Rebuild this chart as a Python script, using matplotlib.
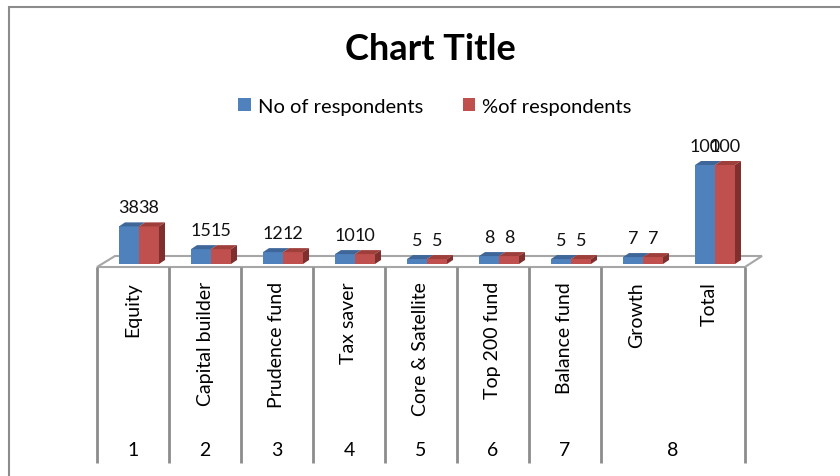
import numpy as np
import matplotlib.pyplot as plt
from matplotlib.patches import Polygon, Rectangle

plt.rcParams['font.family'] = ['Lato', 'DejaVu Sans']

# data
categories = ["Equity", "Capital builder", "Prudence fund", "Tax saver",
              "Core & Satellite", "Top 200 fund", "Balance fund", "Growth", "Total"]
groups = ["1", "2", "3", "4", "5", "6", "7", "8"]
group_span = [(0, 0), (1, 1), (2, 2), (3, 3), (4, 4), (5, 5), (6, 6), (7, 8)]
no_resp = [38, 15, 12, 10, 5, 8, 5, 7, 100]
pct_resp = [38, 15, 12, 10, 5, 8, 5, 7, 100]

blue, blue_top = "#4F81BD", "#3E6698"
red, red_top, red_side = "#C0504D", "#9E3F3C", "#7F302E"
grey = "#8C8C8C"

W, H = 840, 477
fig = plt.figure(figsize=(W / 100, H / 100), dpi=100)
ax = fig.add_axes([0, 0, 1, 1])

# pixel scale of the plot (category width / value unit)
cw = 72.0
vu = 0.99
x0px, y0px = 97, 265
ax.set_xlim(-0.5 - x0px / cw, -0.5 + (W - x0px) / cw)
ax.set_ylim(-(H - y0px) / vu, y0px / vu)
ax.axis('off')

px = lambda p: p / cw      # horizontal pixels -> data
py = lambda p: p / vu      # vertical pixels -> data

x = np.arange(len(categories))
bw = px(20)
shift = px(6)
ddx, ddy = px(6), py(4)

# floor
floor_front = -py(3)
floor_back = py(8)
ax.add_patch(Polygon([(-0.5, floor_front), (8.5, floor_front),
                      (8.5 + px(17), floor_back), (-0.5 + px(18), floor_back)],
                     closed=True, facecolor="white", edgecolor="#A6A6A6", lw=1.5, zorder=1))

b1 = ax.bar(x + shift - bw, no_resp, bw, align='edge', color=blue, zorder=3,
            label="No of respondents")
b2 = ax.bar(x + shift, pct_resp, bw, align='edge', color=red, zorder=3,
            label="%of respondents")

for i in range(len(categories)):
    xl = i + shift - bw
    v = no_resp[i]
    ax.add_patch(Polygon([(xl, v), (xl + bw, v), (xl + bw + ddx, v + ddy), (xl + ddx, v + ddy)],
                         closed=True, facecolor=blue_top, lw=0, zorder=3))
    xr = i + shift
    v = pct_resp[i]
    ax.add_patch(Polygon([(xr, v), (xr + bw, v), (xr + bw + ddx, v + ddy), (xr + ddx, v + ddy)],
                         closed=True, facecolor=red_top, lw=0, zorder=3))
    ax.add_patch(Polygon([(xr + bw, 0), (xr + bw, v), (xr + bw + ddx, v + ddy), (xr + bw + ddx, ddy)],
                         closed=True, facecolor=red_side, lw=0, zorder=3))
    ax.annotate(str(no_resp[i]), (xl + bw / 2, no_resp[i]), xytext=(0, 19),
                textcoords='offset pixels', ha='center', va='center', fontsize=13, color="#111111")
    ax.annotate(str(pct_resp[i]), (xr + bw / 2, pct_resp[i]), xytext=(0, 19),
                textcoords='offset pixels', ha='center', va='center', fontsize=13, color="#111111")

# multi-level category axis
bounds = [-0.5] + [g[1] + 0.5 for g in group_span]
ax.vlines(bounds, -py(464 - y0px), floor_front, color=grey, lw=2, zorder=2)
for i, c in enumerate(categories):
    ax.text(i, -py(282 - y0px), c, rotation=90, ha='center', va='top', fontsize=14)
for g, (a, b) in zip(groups, group_span):
    ax.text((a + b) / 2, -py(451 - y0px), g, ha='center', va='center', fontsize=14)

# chart border, title, legend
fig.patches.append(Rectangle((9 / W, -0.1), 2, 1.1 - 8 / H, transform=fig.transFigure,
                             fill=False, edgecolor="#8C8C8C", lw=1.5))
fig.text(430 / W, 1 - 50 / H, "Chart Title", ha='center', va='center', fontsize=26,
         fontweight='bold')
fig.legend(handles=[b1, b2], loc='center', bbox_to_anchor=(435 / W, 1 - 107 / H), ncol=2,
           frameon=False, fontsize=14.5, handlelength=0.6, handleheight=0.6,
           handletextpad=0.35, columnspacing=2.0)

fig.savefig("out.png", dpi=100)
